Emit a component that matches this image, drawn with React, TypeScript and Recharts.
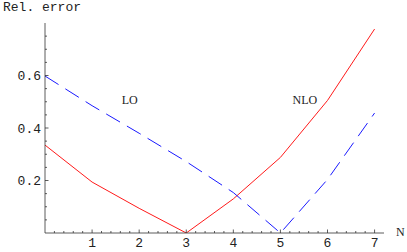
import React from "react";
import { LineChart, Line, XAxis, YAxis, ReferenceDot } from "recharts";

const nValues = [0, 1, 2, 3, 4, 5, 6, 7];
const nloError = [0.335, 0.194, 0.094, 0.0, 0.13, 0.288, 0.505, 0.777];
const loError = [0.598, 0.485, 0.38, 0.272, 0.154, 0.0, 0.204, 0.457];

const xMajor = [1, 2, 3, 4, 5, 6, 7];
const xMinor = [
  0.2, 0.4, 0.6, 0.8, 1.2, 1.4, 1.6, 1.8, 2.2, 2.4, 2.6, 2.8, 3.2, 3.4, 3.6, 3.8,
  4.2, 4.4, 4.6, 4.8, 5.2, 5.4, 5.6, 5.8, 6.2, 6.4, 6.6, 6.8,
];
const yMajor = [0.2, 0.4, 0.6];
const yMinor = [0.05, 0.1, 0.15, 0.25, 0.3, 0.35, 0.45, 0.5, 0.55, 0.65, 0.7, 0.75];

const data = nValues.map((n, i) => ({ n, nlo: nloError[i], lo: loError[i] }));

const mono = "'Liberation Mono', 'Courier New', monospace";
const serif = "'Liberation Serif', 'Times New Roman', serif";
const ink = "#333";

const XTick = (props: any) => {
  const { x, y, payload } = props;
  const major = xMajor.includes(payload.value);
  return (
    <g>
      <line x1={x} x2={x} y1={y} y2={y - (major ? 3.5 : 2)} stroke={ink} strokeWidth={0.8} />
      {major && (
        <text x={x} y={y + 13.5} textAnchor="middle" fontFamily={mono} fontSize={13} fill="#222">
          {payload.value}
        </text>
      )}
    </g>
  );
};

const YTick = (props: any) => {
  const { x, y, payload } = props;
  const major = yMajor.includes(payload.value);
  return (
    <g>
      <line x1={x} x2={x + (major ? 3.5 : 2)} y1={y} y2={y} stroke={ink} strokeWidth={0.8} />
      {major && (
        <text x={x - 4} y={y + 4.5} textAnchor="end" fontFamily={mono} fontSize={13} fill="#222">
          {payload.value.toFixed(1)}
        </text>
      )}
    </g>
  );
};

export default function App() {
  return (
    <div style={{ position: "absolute", left: 0, top: 0, width: 407, height: 252, background: "#fff" }}>
      <LineChart width={407} height={252} data={data} margin={{ top: 23, right: 23, left: 0, bottom: 0 }}>
        <XAxis
          dataKey="n"
          type="number"
          domain={[0, 7.2]}
          allowDataOverflow
          ticks={[...xMinor, ...xMajor].sort((a, b) => a - b)}
          interval={0}
          height={19}
          tickSize={0}
          tickMargin={0}
          tickLine={false}
          axisLine={{ stroke: ink, strokeWidth: 0.8 }}
          tick={<XTick />}
        />
        <YAxis
          type="number"
          domain={[0, 0.8]}
          allowDataOverflow
          ticks={[...yMinor, ...yMajor].sort((a, b) => a - b)}
          interval={0}
          width={45}
          tickSize={0}
          tickMargin={0}
          tickLine={false}
          axisLine={{ stroke: ink, strokeWidth: 0.8 }}
          tick={<YTick />}
        />
        <Line
          type="linear"
          dataKey="nlo"
          stroke="#ff1a1a"
          strokeWidth={1}
          dot={false}
          isAnimationActive={false}
        />
        <Line
          type="linear"
          dataKey="lo"
          stroke="#1a1aff"
          strokeWidth={1}
          strokeDasharray="16 8"
          dot={false}
          isAnimationActive={false}
        />
        <ReferenceDot
          x={1.8}
          y={0.507}
          r={0}
          fill="none"
          stroke="none"
          label={{ value: "LO", position: "center", fontFamily: serif, fontSize: 12, fill: "#222" }}
        />
        <ReferenceDot
          x={5.52}
          y={0.507}
          r={0}
          fill="none"
          stroke="none"
          label={{ value: "NLO", position: "center", fontFamily: serif, fontSize: 12, fill: "#222" }}
        />
      </LineChart>
      <div
        style={{ position: "absolute", left: 3, top: 0, fontFamily: mono, fontSize: 13, lineHeight: "16px", color: "#222" }}
      >
        Rel. error
      </div>
      <div
        style={{ position: "absolute", left: 396, top: 225, fontFamily: serif, fontSize: 12, lineHeight: "14px", color: "#222" }}
      >
        N
      </div>
    </div>
  );
}
